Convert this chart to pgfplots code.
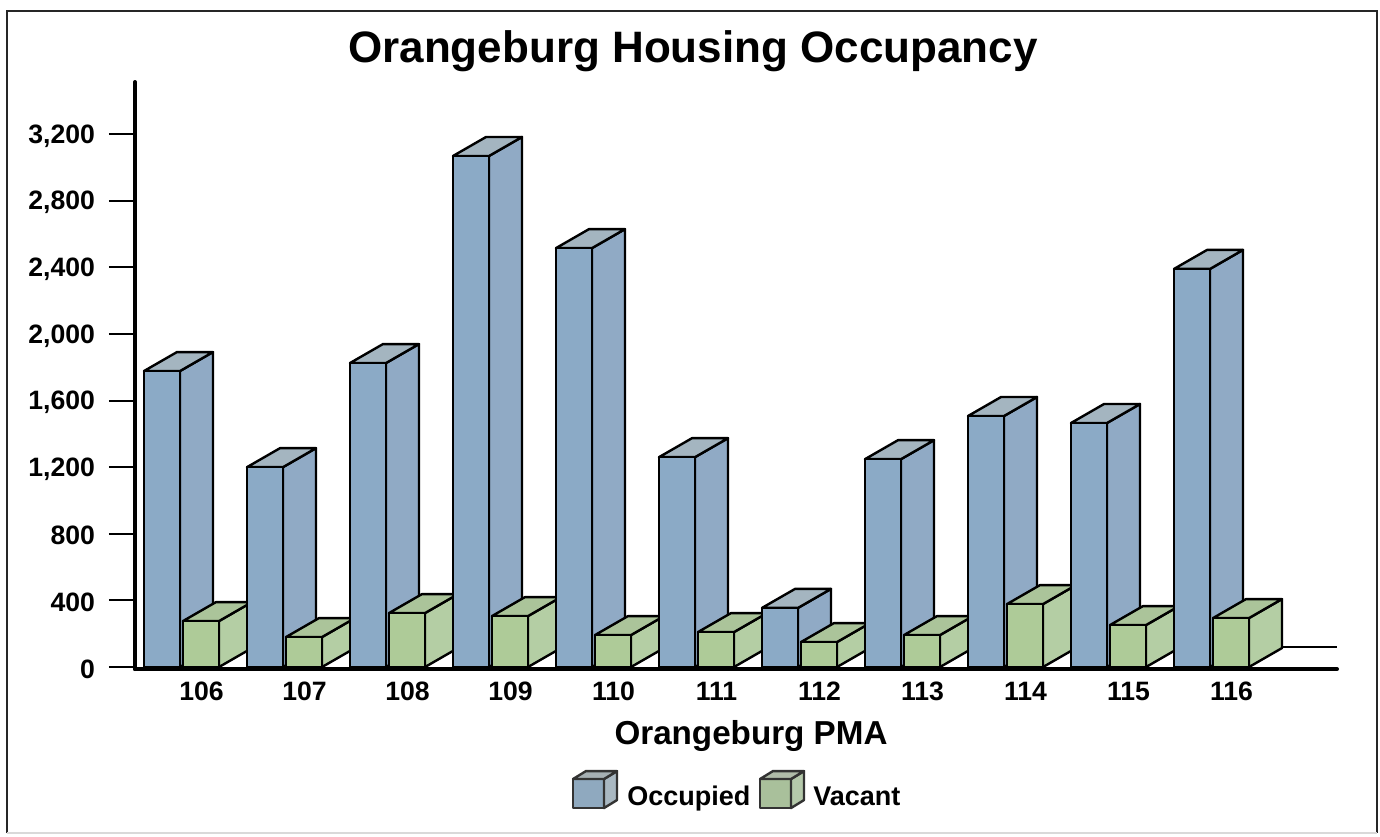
\documentclass[border=0pt]{standalone}
\usepackage{pgfplots}
\pgfplotsset{compat=1.18}
\usepackage{fontspec}
\setmainfont{Liberation Sans}
\definecolor{ofront}{HTML}{8BAAC6}
\definecolor{oside}{HTML}{90AAC5}
\definecolor{otop}{HTML}{A4B5C0}
\definecolor{vfront}{HTML}{AECB98}
\definecolor{vside}{HTML}{B4CEA4}
\definecolor{vtop}{HTML}{ABC49A}
\definecolor{lofront}{HTML}{8FA9BF}
\definecolor{loside}{HTML}{A9B8C2}
\definecolor{lotop}{HTML}{A5AFB3}
\definecolor{lvfront}{HTML}{A9C09B}
\definecolor{lvside}{HTML}{B5C9AB}
\definecolor{lvtop}{HTML}{B0BCA9}
% one 3-D bar: left edge of the front face (x), value, colours
\newcommand{\cube}[5]{%
  \pgfmathsetmacro\xa{#1+36}%
  \pgfmathsetmacro\xb{#1+69}%
  \pgfmathsetmacro\yb{#2+114}%
  \addplot[draw=black,line width=1.2pt,line join=round,fill=#4,forget plot] coordinates {(\xa,0)(\xb,114)(\xb,\yb)(\xa,#2)} --cycle;
  \addplot[draw=black,line width=1.2pt,line join=round,fill=#5,forget plot] coordinates {(#1,#2)(\xa,#2)(\xb,\yb)(#1+33,\yb)} --cycle;
  \addplot[draw=black,line width=1.2pt,line join=round,fill=#3,forget plot] coordinates {(#1,0)(\xa,0)(\xa,#2)(#1,#2)} --cycle;
}
\newcommand{\occ}[2]{\cube{#1}{#2}{ofront}{oside}{otop}}
\newcommand{\vac}[2]{\cube{#1}{#2}{vfront}{vside}{vtop}}
\newcommand{\lcube}[4]{%
  \draw[draw=black!80,line width=1.2pt,line join=round,fill=#3] (axis cs:#1,-846.6) rectangle (axis cs:#1+31,-672.4);
  \draw[draw=black!80,line width=1.2pt,line join=round,fill=#4] (axis cs:#1+31,-846.6) -- (axis cs:#1+44,-798.6) -- (axis cs:#1+44,-624.4) -- (axis cs:#1+31,-672.4) -- cycle;
  \draw[draw=black!80,line width=1.2pt,line join=round,fill=#2] (axis cs:#1,-672.4) -- (axis cs:#1+31,-672.4) -- (axis cs:#1+44,-624.4) -- (axis cs:#1+13,-624.4) -- cycle;
}
\begin{document}
\begin{tikzpicture}
\begin{axis}[
  scale only axis,
  width=601pt, height=293.5pt,
  xmin=135, xmax=1337, ymin=-12, ymax=3512,
  clip=false,
  axis on top,
  axis x line=bottom, axis y line=left,
  axis line style={line width=2pt,-,line cap=round},
  xtick={201.5,304.5,407.5,510.5,613.5,716.5,819.5,922.5,1025.5,1128.5,1231.5},
  xticklabels={106,107,108,109,110,111,112,113,114,115,116},
  ytick={0,400,...,3200},
  major x tick style={draw=none},
  major y tick style={black,line width=1pt},
  major tick length=13pt,
  tick align=outside,
  minor tick num=0,
  ticklabel style={font=\fontsize{13.3}{15}\selectfont\bfseries},
  x tick label style={yshift=2pt,anchor=center,text height=9.5pt,text depth=0pt},
  y tick label style={xshift=-3.5pt,yshift=-1pt},
  /pgf/number format/assume math mode=true,
  /pgf/number format/1000 sep={,},
  xlabel={Orangeburg PMA},
  xlabel style={at={(axis cs:751,-396)},anchor=center,yshift=-1.5pt,font=\fontsize{16.6}{20}\selectfont\bfseries},
  title={Orangeburg Housing Occupancy},
  title style={at={(axis cs:693,3722)},anchor=center,yshift=-8pt,font=\fontsize{22}{26}\selectfont\bfseries},
]
% page and frame
\fill[white] (axis cs:0,-1014.6) rectangle (axis cs:1380,4004.6);
\draw[black!85,line width=1.2pt] (axis cs:7,-997) -- (axis cs:7,3938) -- (axis cs:1377,3938) -- (axis cs:1377,-997);
\draw[black!15,line width=1pt] (axis cs:7,-997) -- (axis cs:1377,-997);
% floor line behind the last bar
\addplot[black,line width=.8pt,forget plot] coordinates {(1282,120)(1337,120)};
% bars, left to right (x of front face, value)
\occ{144}{1777} \vac{183}{276}
\occ{247}{1200} \vac{286}{180}
\occ{350}{1825} \vac{389}{324}
\occ{453}{3068} \vac{492}{306}
\occ{556}{2515} \vac{595}{192}
\occ{659}{1260} \vac{698}{210}
\occ{762}{355}  \vac{801}{150}
\occ{865}{1248} \vac{904}{192}
\occ{968}{1507} \vac{1007}{378}
\occ{1071}{1465} \vac{1110}{252}
\occ{1174}{2390} \vac{1213}{294}
% legend
\lcube{573}{lotop}{lofront}{loside}
\lcube{760}{lvtop}{lvfront}{lvside}
\node[anchor=base west,inner sep=0pt,font=\fontsize{13.5}{15}\selectfont\bfseries] at (axis cs:627,-828.5) {Occupied};
\node[anchor=base west,inner sep=0pt,font=\fontsize{13.5}{15}\selectfont\bfseries] at (axis cs:813,-828.5) {Vacant};
\end{axis}
\end{tikzpicture}
\end{document}
